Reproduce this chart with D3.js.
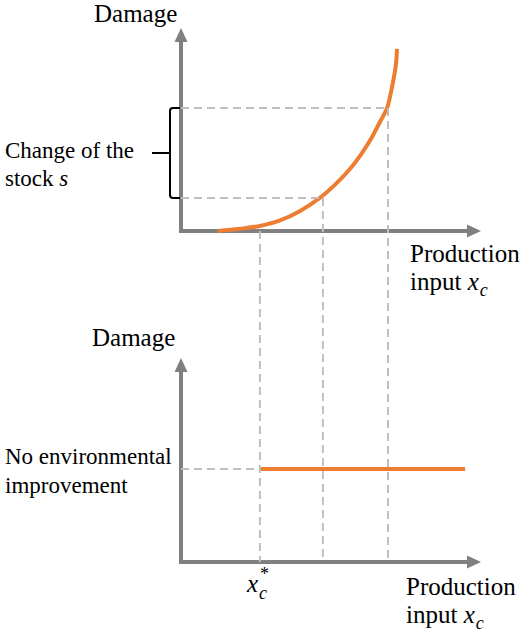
<!DOCTYPE html>
<head><meta charset="utf-8"></head>
<body style="margin:0">
<svg width="525" height="633"></svg>
<script src="https://d3js.org/d3.v7.min.js"></script>
<script>

// damage curve (production input 0-100, damage 0-100)
var curveX = [12.3, 19.7, 26.3, 33, 39.7, 46.3, 51.3, 56.3, 60.3, 63.7, 66.3, 68.7, 70, 71, 71.7, 72];
var curveY = [0, 1.1, 2.5, 5.2, 9.9, 16.3, 22.7, 30.5, 38.4, 46.3, 53.7, 60.6, 68.5, 75.9, 82.8, 89.7];

// inputs marked with dashed guides: x_c*, middle, high
var inputMarks = [26.3, 47.3, 69];
// damage at the middle and high input (top panel)
var damageMarks = [16.3, 60.6];

// bottom panel: flat damage from x_c* onwards
var flatX = [26.3, 94.7];
var flatLevel = 45.6;

var svg = d3.select("svg");

var x = d3.scaleLinear().domain([0, 100]).range([181, 481]);
var yTop = d3.scaleLinear().domain([0, 100]).range([231, 28]);
var yBot = d3.scaleLinear().domain([0, 100]).range([562, 358]);

var arrowLen = 14, arrowHalf = 6.5;
var grey = "#808080", orange = "#ed7d31";

function axisLine(x1, y1, x2, y2) {
  svg.append("line").attr("x1", x1).attr("y1", y1).attr("x2", x2).attr("y2", y2)
    .attr("stroke", grey).attr("stroke-width", 4);
}

function drawAxes(y) {
  var x0 = x(0), y0 = y(0), xt = x(100), yt = y(100);
  axisLine(x0, y0 + 2, x0, yt + arrowLen - 2);
  axisLine(x0 - 2, y0, xt - arrowLen + 2, y0);
  svg.append("path").attr("fill", grey)
    .attr("d", "M" + x0 + "," + yt + "L" + (x0 - arrowHalf) + "," + (yt + arrowLen) + "L" + (x0 + arrowHalf) + "," + (yt + arrowLen) + "Z");
  svg.append("path").attr("fill", grey)
    .attr("d", "M" + xt + "," + y0 + "L" + (xt - arrowLen) + "," + (y0 - arrowHalf) + "L" + (xt - arrowLen) + "," + (y0 + arrowHalf) + "Z");
}

drawAxes(yTop);
drawAxes(yBot);

// top curve
var line = d3.line()
  .x(function(d) { return x(d[0]); })
  .y(function(d) { return yTop(d[1]); })
  .curve(d3.curveCatmullRom.alpha(0.5));

svg.append("path").attr("fill", "none").attr("stroke", orange).attr("stroke-width", 4)
  .attr("d", line(d3.zip(curveX, curveY)));

// bottom flat line
svg.append("line").attr("stroke", orange).attr("stroke-width", 4)
  .attr("x1", x(flatX[0])).attr("x2", x(flatX[1]))
  .attr("y1", yBot(flatLevel)).attr("y2", yBot(flatLevel));

// dashed guides
function dash(x1, y1, x2, y2) {
  svg.append("line").attr("x1", x1).attr("y1", y1).attr("x2", x2).attr("y2", y2)
    .attr("stroke", "#bfbfbf").attr("stroke-width", 2).attr("stroke-dasharray", "8,5");
}
var starts = [0, damageMarks[0], damageMarks[1]];
inputMarks.forEach(function(m, i) {
  dash(x(m), yTop(starts[i]), x(m), yBot(0));
});
damageMarks.forEach(function(d, i) {
  dash(x(0), yTop(d), x(inputMarks[i + 1]), yTop(d));
});
dash(x(0), yBot(flatLevel), x(flatX[0]), yBot(flatLevel));

// brace for change of the stock
var bx = 170, by1 = yTop(damageMarks[1]), by2 = yTop(damageMarks[0]), bm = (by1 + by2) / 2;
svg.append("path").attr("fill", "none").attr("stroke", "#000").attr("stroke-width", 2)
  .attr("d", "M180," + by1 + "L" + (bx + 3) + "," + by1 + "Q" + bx + "," + by1 + " " + bx + "," + (by1 + 3) +
    "L" + bx + "," + (by2 - 3) + "Q" + bx + "," + by2 + " " + (bx + 3) + "," + by2 + "L180," + by2 +
    "M" + bx + "," + bm + "L152," + bm);

// labels
function label(tx, ty, size) {
  return svg.append("text").attr("x", tx).attr("y", ty)
    .attr("font-size", size)
    .style("font-family", "Liberation Serif");
}
function addXc(t, star) {
  t.append("tspan").style("font-style", "italic").text("x");
  if (star) {
    t.append("tspan").attr("dy", 7).attr("dx", 1).attr("font-size", 18).style("font-style", "italic").text("c");
    t.append("tspan").attr("dy", -19).attr("dx", -7).attr("font-size", 18).text("*");
  } else {
    t.append("tspan").attr("dy", 6).attr("dx", 1).attr("font-size", 18).style("font-style", "italic").text("c");
  }
}

label(94, 22, 25).text("Damage");
label(92, 346, 25).text("Damage");

label(5, 158, 23).text("Change of the");
var s = label(5, 186, 23).text("stock ");
s.append("tspan").style("font-style", "italic").text("s");

label(5, 464, 23).text("No environmental");
label(5, 493, 23).text("improvement");

label(410, 262, 25).text("Production");
var p1 = label(410, 290, 25).text("input ");
addXc(p1, false);

label(406, 595, 25).text("Production");
var p2 = label(406, 623, 25).text("input ");
addXc(p2, false);

var st = label(247, 592, 25);
addXc(st, true);

</script>
</body>
